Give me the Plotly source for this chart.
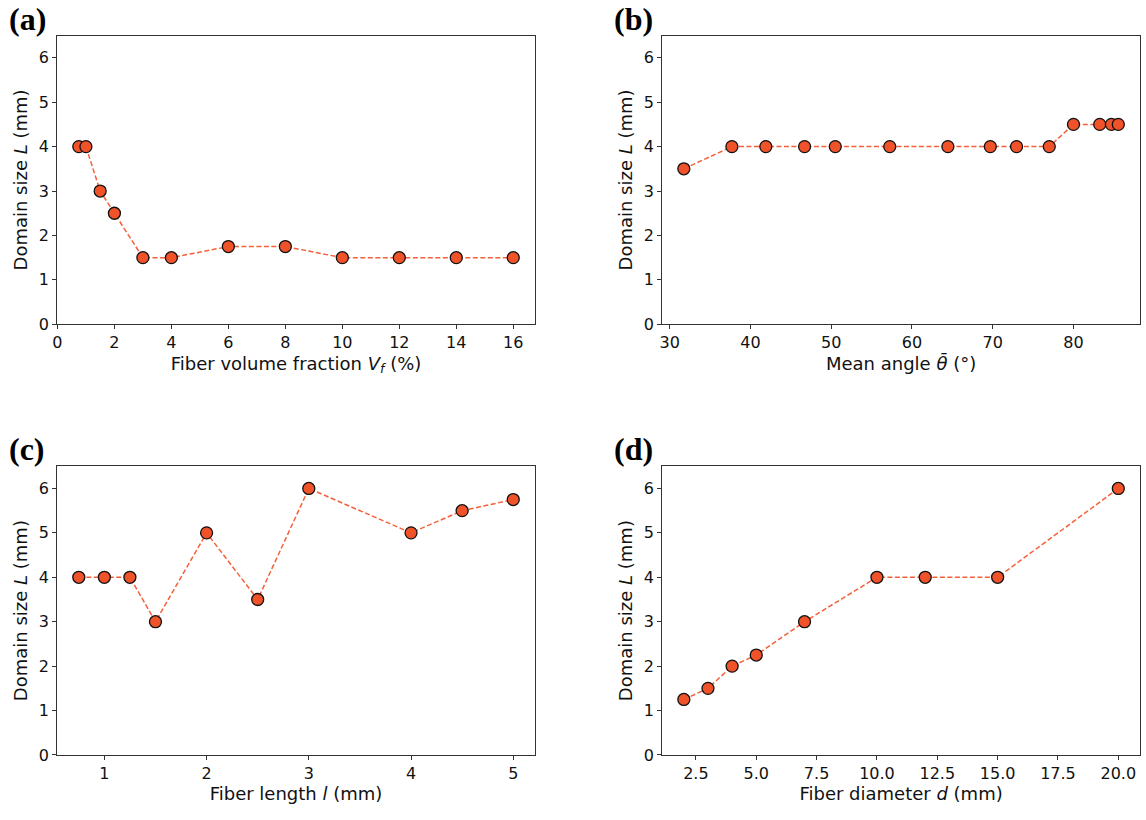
import plotly.graph_objects as go

# ---- data ----
vf_x = [0.75, 1, 1.5, 2, 3, 4, 6, 8, 10, 12, 14, 16]
vf_y = [4, 4, 3, 2.5, 1.5, 1.5, 1.75, 1.75, 1.5, 1.5, 1.5, 1.5]

ang_x = [31.75, 37.7, 41.9, 46.7, 50.5, 57.25, 64.45, 69.7, 72.95, 77.0, 80.0, 83.25, 84.7, 85.55]
ang_y = [3.5, 4, 4, 4, 4, 4, 4, 4, 4, 4, 4.5, 4.5, 4.5, 4.5]

len_x = [0.75, 1, 1.25, 1.5, 2, 2.5, 3, 4, 4.5, 5]
len_y = [4, 4, 4, 3, 5, 3.5, 6, 5, 5.5, 5.75]

dia_x = [2, 3, 4, 5, 7, 10, 12, 15, 20]
dia_y = [1.25, 1.5, 2, 2.25, 3, 4, 4, 4, 6]

y_ticks = [0, 1, 2, 3, 4, 5, 6]
vf_ticks = [0, 2, 4, 6, 8, 10, 12, 14, 16]
ang_ticks = [30, 40, 50, 60, 70, 80]
len_ticks = [1, 2, 3, 4, 5]
dia_ticks = [2.5, 5.0, 7.5, 10.0, 12.5, 15.0, 17.5, 20.0]

panel_labels = ["(a)", "(b)", "(c)", "(d)"]
x_titles = [
    "Fiber volume fraction <i>V</i><sub><i>f</i></sub> (%)",
    "Mean angle <i>θ̄</i> (°)",
    "Fiber length <i>l</i> (mm)",
    "Fiber diameter <i>d</i> (mm)",
]
y_title = "Domain size <i>L</i> (mm)"

W, H = 1146, 820
FILL = "#F0522A"
LINE = "#F5603A"

def auto_range(xs):
    lo, hi = min(xs), max(xs)
    m = 0.05 * (hi - lo)
    return [lo - m, hi + m]

panels = [
    (vf_x, vf_y, vf_ticks, None),
    (ang_x, ang_y, ang_ticks, None),
    (len_x, len_y, len_ticks, None),
    (dia_x, dia_y, dia_ticks, ".1f"),
]

# pixel boxes (left, right, top, bottom)
boxes = [
    (52.3, 532.3, 36, 328.3),
    (660, 1140, 36, 328.3),
    (52.3, 532.3, 472, 764.3),
    (660, 1140, 472, 764.3),
]

fig = go.Figure()
tickfont = dict(family="DejaVu Sans", size=16, color="#111")
titlefont = dict(family="DejaVu Sans", size=18, color="#111")

for i, ((xs, ys, xt, fmt), (l, r, t, b)) in enumerate(zip(panels, boxes)):
    n = "" if i == 0 else str(i + 1)
    fig.add_trace(go.Scatter(
        x=xs, y=ys, mode="lines+markers",
        line=dict(color=LINE, width=1.5, dash="5px,2.5px"),
        marker=dict(size=12, color=FILL, line=dict(color="#111", width=1.3)),
        xaxis="x" + n, yaxis="y" + n, showlegend=False,
    ))
    axis_common = dict(
        showgrid=False, zeroline=False, showline=True, linecolor="#333",
        linewidth=1, mirror=True, ticks="outside", ticklen=4, tickwidth=1,
        tickcolor="#333", tickfont=tickfont,
    )
    xa = dict(axis_common, domain=[l / W, r / W], anchor="y" + n,
              range=auto_range(xs), tickmode="array", tickvals=xt,
              title=dict(text=x_titles[i], font=titlefont, standoff=5))
    if fmt:
        xa["tickformat"] = fmt
    ya = dict(axis_common, domain=[1 - b / H, 1 - t / H], anchor="x" + n,
              range=[0, 6.5], tickmode="array", tickvals=y_ticks,
              title=dict(text=y_title, font=titlefont, standoff=6))
    fig.layout["xaxis" + n] = xa
    fig.layout["yaxis" + n] = ya
    fig.add_annotation(
        text="<b>" + panel_labels[i] + "</b>", xref="paper", yref="paper",
        x=(l - 50) / W, y=1 - (t - 17) / H, xanchor="left", yanchor="middle",
        showarrow=False, font=dict(family="Liberation Serif", size=32, color="#000"),
    )

fig.update_layout(
    width=W, height=H, margin=dict(l=0, r=0, t=0, b=0),
    paper_bgcolor="white", plot_bgcolor="white",
)
fig.write_html("out.html", config={"displayModeBar": False},
               post_script="document.body.style.margin='0';")
